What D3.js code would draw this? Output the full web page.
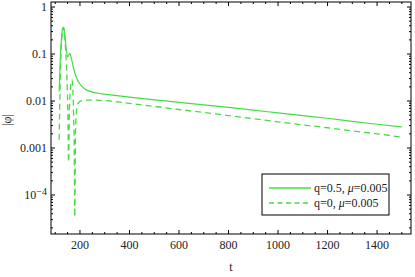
<!DOCTYPE html>
<html>
<head>
<meta charset="utf-8">
<script src="https://cdn.jsdelivr.net/npm/d3@7"></script>
<style>
body { margin: 0; background: #fff; }
svg text { font-family: "Liberation Serif", "DejaVu Serif", serif; font-size: 12px; fill: #222; }
</style>
</head>
<body>
<div class="chart"></div>
<script>
// q = 0.5, mu = 0.005 (solid)
var solidT   = [116, 118, 121, 125, 129, 133, 137, 141, 145, 150, 154, 158, 162, 168, 175, 185, 200, 220, 250, 290, 340, 400, 500, 600, 700, 800, 900, 1000, 1100, 1200, 1300, 1400, 1500];
var solidV   = [0.016, 0.035, 0.09, 0.2, 0.33, 0.37, 0.3, 0.19, 0.12, 0.088, 0.092, 0.104, 0.095, 0.07, 0.048, 0.032, 0.023, 0.018, 0.0155, 0.0142, 0.0132, 0.0121, 0.0106, 0.0094, 0.0083, 0.0073, 0.0064, 0.0056, 0.0049, 0.0043, 0.0037, 0.0032, 0.0028];
// q = 0, mu = 0.005 (dashed)
var dashT    = [116, 118, 121, 125, 129, 133, 137, 141, 145, 148, 151, 154, 157, 161, 165, 168, 171, 174, 177, 179, 182, 186, 192, 200, 220, 250, 300, 400, 500, 600, 700, 800, 900, 1000, 1100, 1200, 1300, 1400, 1500];
var dashV    = [0.0015, 0.006, 0.04, 0.15, 0.3, 0.37, 0.3, 0.15, 0.06, 0.025, 0.006, 0.0005, 0.005, 0.018, 0.027, 0.028, 0.018, 0.006, 0.0008, 0.000034, 0.002, 0.006, 0.0088, 0.0098, 0.0104, 0.0105, 0.0102, 0.0089, 0.0077, 0.0066, 0.0057, 0.0049, 0.0042, 0.0036, 0.0031, 0.0027, 0.0023, 0.002, 0.0017];

var xTicks = [200, 400, 600, 800, 1000, 1200, 1400];
var yTicks = [1, 0.1, 0.01, 0.001, 0.0001];
var yTickLabels = ["1", "0.1", "0.01", "0.001", "10^-4"];
var legendLabels = [["q=0.5, ", "\u03bc", "=0.005"], ["q=0, ", "\u03bc", "=0.005"]];

var green = "#45dc45";
var W = 415, H = 277;
var pLeft = 51, pRight = 411, pTop = 2, pBottom = 234;

var svg = d3.select("body div.chart").append("svg").attr("width", W).attr("height", H);

var x = d3.scaleLinear().domain([83, 1537]).range([pLeft, pRight]);
var y = d3.scaleLog().domain([1.48e-5, 1.28]).range([pBottom, pTop]);

var plot = svg.append("g");
svg.append("clipPath").attr("id", "clip")
    .append("rect").attr("x", pLeft).attr("y", pTop).attr("width", pRight - pLeft).attr("height", pBottom - pTop);

var line = d3.line()
    .x(function(d) { return x(d[0]); })
    .y(function(d) { return y(d[1]); })
    .curve(d3.curveMonotoneX);

var solidData = d3.zip(solidT, solidV);
var dashData = d3.zip(dashT, dashV);

plot.append("path").attr("d", line(dashData))
    .attr("clip-path", "url(#clip)")
    .attr("fill", "none").attr("stroke", green).attr("stroke-width", 1.3)
    .attr("stroke-dasharray", "6,4");
plot.append("path").attr("d", line(solidData))
    .attr("clip-path", "url(#clip)")
    .attr("fill", "none").attr("stroke", green).attr("stroke-width", 1.2);

// frame + ticks
var minorX = d3.range(100, 1537, 50).filter(function(t) { return t % 200 != 0; });
var minorY = [];
[1e-5, 1e-4, 1e-3, 1e-2, 1e-1, 1].forEach(function(dec) {
    for (var k = 2; k <= 9; k++) {
        var v = dec * k;
        if (v > y.domain()[0] && v < y.domain()[1]) minorY.push(v);
    }
});

var axisG = svg.append("g").attr("stroke", "#000").attr("stroke-width", 1);
xTicks.forEach(function(t) {
    axisG.append("line").attr("x1", x(t)).attr("x2", x(t)).attr("y1", pBottom).attr("y2", pBottom - 4);
    axisG.append("line").attr("x1", x(t)).attr("x2", x(t)).attr("y1", pTop).attr("y2", pTop + 4);
});
minorX.forEach(function(t) {
    axisG.append("line").attr("x1", x(t)).attr("x2", x(t)).attr("y1", pBottom).attr("y2", pBottom - 2);
    axisG.append("line").attr("x1", x(t)).attr("x2", x(t)).attr("y1", pTop).attr("y2", pTop + 2);
});
yTicks.forEach(function(v) {
    axisG.append("line").attr("x1", pLeft).attr("x2", pLeft + 4).attr("y1", y(v)).attr("y2", y(v));
    axisG.append("line").attr("x1", pRight).attr("x2", pRight - 4).attr("y1", y(v)).attr("y2", y(v));
});
minorY.forEach(function(v) {
    axisG.append("line").attr("x1", pLeft).attr("x2", pLeft + 2).attr("y1", y(v)).attr("y2", y(v));
    axisG.append("line").attr("x1", pRight).attr("x2", pRight - 2).attr("y1", y(v)).attr("y2", y(v));
});
axisG.append("rect").attr("x", pLeft).attr("y", pTop).attr("width", pRight - pLeft).attr("height", pBottom - pTop)
    .attr("fill", "none");

// tick labels
svg.selectAll("text.xt").data(xTicks).enter().append("text")
    .attr("class", "xt")
    .attr("x", function(d) { return x(d); })
    .attr("y", 249)
    .attr("text-anchor", "middle")
    .text(function(d) { return d; });

yTicks.forEach(function(v, i) {
    var lab = yTickLabels[i];
    var t = svg.append("text").attr("x", 47).attr("y", y(v) + 4).attr("text-anchor", "end");
    if (lab.indexOf("^") >= 0) {
        var parts = lab.split("^");
        t.append("tspan").text(parts[0]);
        t.append("tspan").attr("dy", -4).style("font-size", "10px").text(parts[1].replace("-", "\u2212"));
    } else {
        t.text(lab);
    }
});

svg.append("text").attr("x", 231).attr("y", 271).attr("text-anchor", "middle").text("t");
svg.append("text").attr("transform", "translate(11,120) rotate(-90)").attr("text-anchor", "middle").text("|\u03c6|");

// legend
var lg = svg.append("g");
lg.append("rect").attr("x", 262).attr("y", 174).attr("width", 127).attr("height", 41)
    .attr("fill", "#fff").attr("stroke", "#000").attr("stroke-width", 1);
legendLabels.forEach(function(lab, i) {
    var ly = 188 + i * 15;
    lg.append("line").attr("x1", 269).attr("x2", 311).attr("y1", ly).attr("y2", ly)
        .attr("stroke", green).attr("stroke-width", 1.3)
        .attr("stroke-dasharray", i == 1 ? "5,3.5" : null);
    var t = lg.append("text").attr("x", 314).attr("y", ly + 4);
    t.append("tspan").text(lab[0]);
    t.append("tspan").style("font-style", "italic").text(lab[1]);
    t.append("tspan").text(lab[2]);
});
</script>
</body>
</html>
